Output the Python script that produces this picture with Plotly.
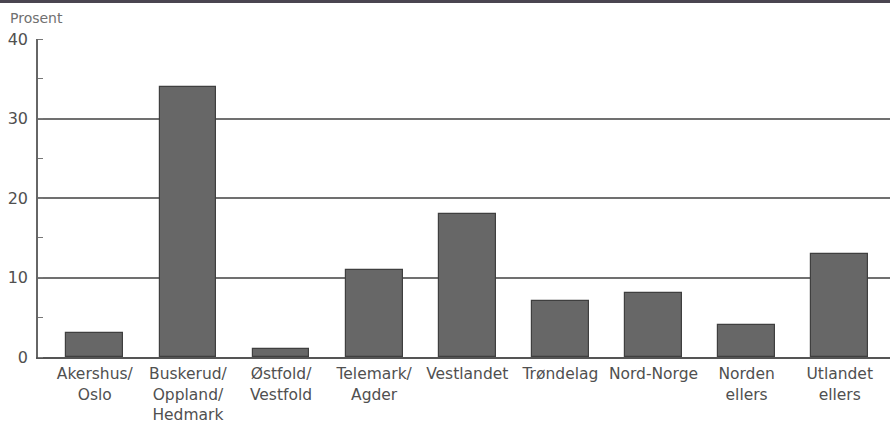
import plotly.graph_objs as go

regions = ['Akershus/<br>Oslo', 'Buskerud/<br>Oppland/<br>Hedmark', 'Østfold/<br>Vestfold',
           'Telemark/<br>Agder', 'Vestlandet', 'Trøndelag', 'Nord-Norge',
           'Norden<br>ellers', 'Utlandet<br>ellers']
prosent = [3, 34, 1, 11, 18, 7, 8, 4, 13]
y_ticks = [0, 10, 20, 30, 40]

font_color = '#505050'
fig = go.Figure(
    data=[
        go.Bar(
            x=list(range(len(regions))),
            y=prosent,
            width=0.61,
            marker=dict(color='#676767', line=dict(color='#3f3f3f', width=1.2)),
            hoverinfo='skip',
        )
    ]
)

fig.update_layout(
    width=890, height=424,
    margin=dict(l=38, r=0, t=39, b=67),
    paper_bgcolor='white', plot_bgcolor='white',
    showlegend=False,
    bargap=0,
    font=dict(family='DejaVu Sans, sans-serif', size=15.5, color=font_color),
    annotations=[
        dict(text='Prosent', xref='paper', yref='paper', x=-30 / 852, y=1 + 11 / 318,
             xanchor='left', yanchor='bottom', showarrow=False,
             font=dict(size=14, color='#707070'))
    ],
    shapes=[
        # dark scan edge along the top of the page
        dict(type='line', xref='paper', yref='paper', x0=-0.05, x1=1.0,
             y0=1 + 37.5 / 318, y1=1 + 37.5 / 318, line=dict(color='#4a4550', width=3))
    ],
)

fig.update_xaxes(
    range=[-0.61, 8.54],
    tickmode='array',
    tickvals=list(range(len(regions))),
    ticktext=regions,
    showgrid=False,
    showline=True, linecolor='#555555', linewidth=1.5,
    ticks='', ticklabelstandoff=2,
    zeroline=False,
)

fig.update_yaxes(
    range=[0, 40],
    tickmode='array',
    tickvals=y_ticks,
    tickfont=dict(size=16),
    showgrid=True, gridcolor='#707070', gridwidth=1.5,
    showline=True, linecolor='#666666', linewidth=1.5,
    ticks='', ticklabelstandoff=5,
    minor=dict(ticks='inside', ticklen=5, tickcolor='#777777', dtick=5, showgrid=False),
    zeroline=False,
)

# drop the default 8px body margin so the figure sits at the page corner
fig.write_html("out.html", config={'displayModeBar': False},
               post_script="document.body.style.margin='0';")
